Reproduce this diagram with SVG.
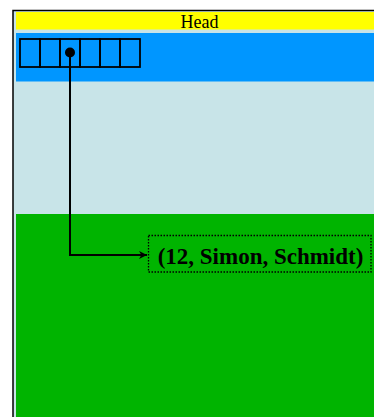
<svg xmlns="http://www.w3.org/2000/svg" width="374" height="417" viewBox="0 0 374 417">
<style>
.cell{fill:none;stroke:#000;stroke-width:1.8}
.conn{fill:none;stroke:#000;stroke-width:2}
</style>
<defs>
<marker id="arr" viewBox="0 0 10 10" refX="10" refY="5" markerWidth="9" markerHeight="8" markerUnits="userSpaceOnUse" orient="auto">
<path d="M0,0 L10,5 L0,10 L3,5 Z" fill="#000"/>
</marker>
</defs>
<g id="frame">
<rect x="13" y="10.5" width="370" height="420" fill="#C8E4E8" stroke="#000" stroke-width="1.5"/>
</g>
<g id="head">
<rect x="16" y="12" width="358" height="17.5" fill="#FFFF00"/>
<text x="199.5" y="27.8" font-family="Liberation Serif, serif" font-size="18" text-anchor="middle" fill="#000">Head</text>
</g>
<g id="array-zone">
<rect x="16" y="33" width="358" height="48.5" fill="#0096FF"/>
</g>
<g id="green-zone">
<rect x="16" y="214" width="358" height="203" fill="#00B400"/>
</g>
<g id="array">
<rect class="cell" x="20" y="39" width="20" height="28"/>
<rect class="cell" x="40" y="39" width="20" height="28"/>
<rect class="cell" x="60" y="39" width="20" height="28"/>
<rect class="cell" x="80" y="39" width="20" height="28"/>
<rect class="cell" x="100" y="39" width="20" height="28"/>
<rect class="cell" x="120" y="39" width="20" height="28"/>
<circle cx="70" cy="52.5" r="5" fill="#000"/>
</g>
<g id="record">
<rect x="148.5" y="235.5" width="222.5" height="36.5" fill="none" stroke="#000" stroke-width="1.3" stroke-dasharray="1.5,1.5"/>
<text x="260.5" y="264" font-family="Liberation Serif, serif" font-size="23" font-weight="bold" text-anchor="middle" fill="#000">(12, Simon, Schmidt)</text>
</g>
<g id="connectors">
<path class="conn" d="M70,52.5 V255 H147" marker-end="url(#arr)"/>
</g>
</svg>
